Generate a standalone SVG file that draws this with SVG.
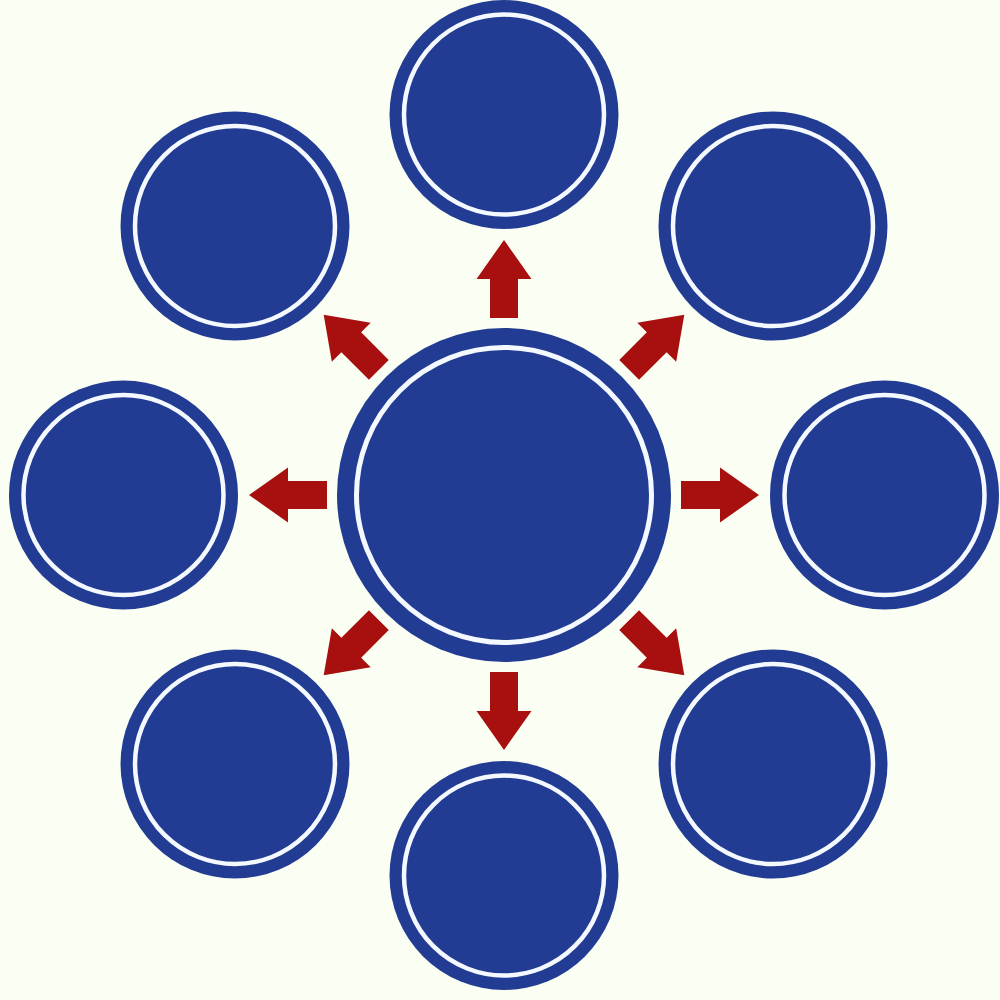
<svg xmlns="http://www.w3.org/2000/svg" xmlns:xlink="http://www.w3.org/1999/xlink" width="1000" height="1000" viewBox="0 0 1000 1000">
  <style>
    .disc { fill: #233c93; }
    .ring { fill: none; stroke: #f4f9ff; stroke-width: 4.5; }
    .arrow { fill: #a81010; }
  </style>
  <defs>
    <polygon id="arr" points="-14,-177 -14,-216 -27.5,-216 0,-255 27.5,-216 14,-216 14,-177"/>
  </defs>
  <rect x="0" y="0" width="1000" height="1000" fill="#fbfff3"/>
  <g id="connectors" class="arrow" transform="translate(504,495)">
    <use xlink:href="#arr" transform="rotate(0)"/>
    <use xlink:href="#arr" transform="rotate(45)"/>
    <use xlink:href="#arr" transform="rotate(90)"/>
    <use xlink:href="#arr" transform="rotate(135)"/>
    <use xlink:href="#arr" transform="rotate(180)"/>
    <use xlink:href="#arr" transform="rotate(225)"/>
    <use xlink:href="#arr" transform="rotate(270)"/>
    <use xlink:href="#arr" transform="rotate(315)"/>
  </g>
  <g id="center">
    <circle class="disc" cx="504" cy="495" r="167"/>
    <circle class="ring" cx="504" cy="495" r="147.5" style="stroke-width:5"/>
  </g>
  <g id="node-top">
    <circle class="disc" cx="504" cy="114.5" r="114.5"/>
    <circle class="ring" cx="504" cy="114.5" r="100"/>
  </g>
  <g id="node-top-right">
    <circle class="disc" cx="773" cy="226" r="114.5"/>
    <circle class="ring" cx="773" cy="226" r="100"/>
  </g>
  <g id="node-right">
    <circle class="disc" cx="884.5" cy="495" r="114.5"/>
    <circle class="ring" cx="884.5" cy="495" r="100"/>
  </g>
  <g id="node-bottom-right">
    <circle class="disc" cx="773" cy="764" r="114.5"/>
    <circle class="ring" cx="773" cy="764" r="100"/>
  </g>
  <g id="node-bottom">
    <circle class="disc" cx="504" cy="875.5" r="114.5"/>
    <circle class="ring" cx="504" cy="875.5" r="100"/>
  </g>
  <g id="node-bottom-left">
    <circle class="disc" cx="235" cy="764" r="114.5"/>
    <circle class="ring" cx="235" cy="764" r="100"/>
  </g>
  <g id="node-left">
    <circle class="disc" cx="123.5" cy="495" r="114.5"/>
    <circle class="ring" cx="123.5" cy="495" r="100"/>
  </g>
  <g id="node-top-left">
    <circle class="disc" cx="235" cy="226" r="114.5"/>
    <circle class="ring" cx="235" cy="226" r="100"/>
  </g>
</svg>
